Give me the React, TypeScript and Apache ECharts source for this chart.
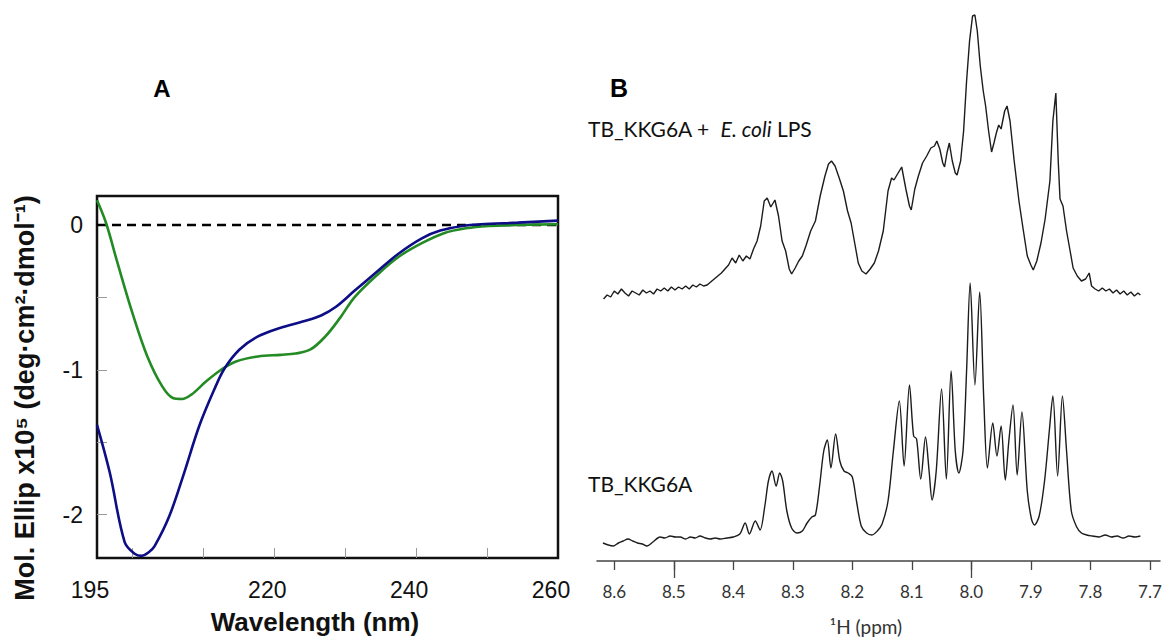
import React, { useEffect, useRef } from "react";
import * as echarts from "echarts";

// Panel A: CD spectra (wavelength nm, Mol. Ellip x10^5)
const blueNm = [195, 196.8, 198.9, 200.3, 201.3, 202.3, 203.1, 205.2, 207.3, 209.4, 211.5, 213.0, 215.1, 217.7, 220.9, 224.0, 226.6, 228.7, 231.3, 234.5, 237.6, 240.8, 243.4, 246.5, 249.1, 254.3, 260];
const blueVal = [-1.38, -1.71, -2.19, -2.27, -2.285, -2.26, -2.22, -2.01, -1.71, -1.39, -1.14, -0.99, -0.86, -0.77, -0.71, -0.667, -0.625, -0.565, -0.455, -0.322, -0.195, -0.092, -0.039, -0.007, 0.005, 0.016, 0.03];
const greenNm = [195, 196.3, 197.9, 200.0, 202.1, 204.2, 205.7, 207.0, 208.3, 210.4, 212.5, 214.6, 217.7, 220.9, 223.0, 225.1, 227.2, 229.3, 231.3, 234.5, 237.6, 240.8, 243.9, 247.0, 250.2, 254.3, 260];
const greenVal = [0.17, 0.01, -0.264, -0.609, -0.908, -1.115, -1.195, -1.202, -1.172, -1.08, -1.0, -0.943, -0.908, -0.897, -0.888, -0.86, -0.77, -0.64, -0.5, -0.345, -0.218, -0.126, -0.057, -0.023, -0.007, 0.0, 0.005];
const zeroNm = [195, 260];
const zeroVal = [0, 0];
const cdTickValues = [200, 210, 220, 230, 240, 250];
const cdLabelValues = [195, 220, 240, 260];
const ellipTickValues = [-2, -1.5, -1, -0.5, 0];
const ellipLabelValues = [-2, -1, 0];

// Panel B: 1H NMR spectra (ppm, intensity a.u.)
const bottomPpm = [8.619, 8.61, 8.602, 8.593, 8.585, 8.577, 8.569, 8.561, 8.553, 8.545, 8.535, 8.523, 8.515, 8.506, 8.497, 8.489, 8.48, 8.472, 8.464, 8.456, 8.447, 8.439, 8.43, 8.422, 8.411, 8.4, 8.389, 8.38, 8.373, 8.363, 8.355, 8.347, 8.341, 8.335, 8.328, 8.322, 8.317, 8.31, 8.302, 8.293, 8.284, 8.276, 8.268, 8.262, 8.255, 8.248, 8.242, 8.236, 8.228, 8.221, 8.214, 8.207, 8.2, 8.193, 8.185, 8.176, 8.167, 8.158, 8.15, 8.14, 8.131, 8.121, 8.113, 8.104, 8.097, 8.092, 8.085, 8.077, 8.071, 8.066, 8.059, 8.05, 8.042, 8.034, 8.027, 8.021, 8.014, 8.008, 8.002, 7.994, 7.986, 7.979, 7.973, 7.964, 7.957, 7.95, 7.943, 7.937, 7.93, 7.923, 7.915, 7.906, 7.899, 7.894, 7.886, 7.877, 7.869, 7.863, 7.855, 7.847, 7.84, 7.832, 7.823, 7.815, 7.806, 7.797, 7.785, 7.775, 7.765, 7.755, 7.745, 7.735, 7.725, 7.716];
const bottomInt = [18, 16, 15, 18, 20, 22, 20, 18, 17, 15, 19, 24, 23, 25, 24, 24, 22, 24, 23, 25, 23, 22, 23, 22, 23, 24, 27, 38, 27, 40, 31, 55, 80, 90, 75, 88, 80, 50, 33, 28, 30, 38, 44, 46, 75, 110, 121, 93, 127, 100, 90, 88, 84, 60, 35, 28, 26, 30, 37, 60, 110, 160, 95, 176, 125, 122, 82, 124, 90, 61, 90, 172, 82, 190, 110, 88, 110, 190, 278, 176, 269, 160, 93, 138, 105, 135, 81, 120, 156, 86, 149, 70, 42, 36, 45, 80, 130, 165, 85, 165, 110, 50, 34, 28, 26, 25, 24, 26, 24, 25, 23, 25, 24, 25];
const topPpm = [8.618, 8.612, 8.606, 8.6, 8.594, 8.588, 8.582, 8.576, 8.57, 8.564, 8.558, 8.552, 8.546, 8.54, 8.534, 8.528, 8.522, 8.516, 8.51, 8.504, 8.498, 8.492, 8.486, 8.48, 8.474, 8.468, 8.462, 8.456, 8.45, 8.444, 8.438, 8.432, 8.426, 8.42, 8.414, 8.408, 8.402, 8.396, 8.39, 8.384, 8.378, 8.372, 8.366, 8.36, 8.354, 8.348, 8.343, 8.337, 8.33, 8.324, 8.318, 8.312, 8.306, 8.302, 8.296, 8.29, 8.284, 8.278, 8.27, 8.262, 8.254, 8.246, 8.24, 8.235, 8.229, 8.222, 8.215, 8.208, 8.202, 8.196, 8.19, 8.184, 8.177, 8.17, 8.163, 8.156, 8.148, 8.14, 8.134, 8.13, 8.124, 8.117, 8.11, 8.104, 8.101, 8.095, 8.089, 8.082, 8.075, 8.068, 8.062, 8.058, 8.053, 8.048, 8.045, 8.041, 8.037, 8.032, 8.027, 8.024, 8.018, 8.013, 8.008, 8.003, 7.998, 7.994, 7.99, 7.985, 7.98, 7.976, 7.971, 7.966, 7.962, 7.958, 7.954, 7.95, 7.944, 7.94, 7.935, 7.928, 7.92, 7.913, 7.906, 7.9, 7.896, 7.89, 7.883, 7.876, 7.868, 7.863, 7.858, 7.854, 7.851, 7.846, 7.84, 7.834, 7.829, 7.822, 7.815, 7.808, 7.802, 7.798, 7.792, 7.786, 7.78, 7.774, 7.768, 7.762, 7.756, 7.75, 7.744, 7.738, 7.732, 7.726, 7.72, 7.716];
const topInt = [262, 266, 264, 270, 267, 272, 268, 265, 270, 268, 266, 271, 268, 270, 267, 272, 270, 273, 270, 274, 271, 274, 272, 275, 272, 276, 274, 277, 275, 276, 279, 282, 285, 288, 292, 296, 303, 298, 306, 300, 305, 302, 312, 320, 335, 360, 363, 354, 361, 345, 320, 310, 292, 287, 293, 300, 305, 315, 330, 340, 365, 385, 397, 400, 395, 383, 370, 350, 338, 318, 298, 290, 287, 292, 298, 310, 330, 370, 383, 381, 387, 394, 372, 355, 351, 372, 385, 398, 405, 413, 415, 420, 412, 398, 394, 408, 418, 400, 388, 386, 400, 430, 480, 520, 545, 546, 530, 495, 470, 455, 430, 409, 418, 428, 436, 432, 450, 455, 440, 400, 360, 332, 305, 296, 291, 300, 318, 342, 380, 440, 468, 400, 362, 355, 330, 310, 293, 285, 280, 282, 288, 275, 272, 270, 273, 270, 272, 268, 271, 267, 270, 266, 269, 265, 268, 266];
const ppmTickValues = [8.6, 8.5, 8.4, 8.3, 8.2, 8.1, 8.0, 7.9, 7.8, 7.7];
const ppmMajorTicks = [8.5, 8.0];

const zip = (xs: number[], ys: number[]) => xs.map((x, i) => [x, ys[i]]);

export default function App() {
  const ref = useRef<HTMLDivElement>(null);
  useEffect(() => {
    document.body.style.margin = "0";
    if (!ref.current) return;
    const chart = echarts.init(ref.current, undefined, { renderer: "svg" });
    const arial = "'Liberation Sans', Arial, Helvetica, sans-serif";
    const lato = "Lato, 'Open Sans', sans-serif";
    chart.setOption({
      animation: false,
      backgroundColor: "#ffffff",
      grid: [
        { left: 97, top: 196, width: 461, height: 362, show: true, borderColor: "#111", borderWidth: 2.5, backgroundColor: "transparent", containLabel: false, outerBoundsMode: "none" },
        { left: 597, top: 0, width: 563, height: 561, show: false, containLabel: false, outerBoundsMode: "none" },
      ],
      xAxis: [
        {
          gridIndex: 0, type: "value", min: 195, max: 260, position: "bottom",
          axisLine: { show: false, onZero: false },
          splitLine: { show: false },
          axisTick: { show: true, inside: true, length: 10, customValues: cdTickValues, lineStyle: { color: "#999", width: 1 } },
          axisLabel: { show: true, customValues: cdLabelValues, margin: 20, padding: [0, 14, 0, 0], fontFamily: arial, fontSize: 23, color: "#111", showMinLabel: true, showMaxLabel: true },
        },
        {
          gridIndex: 1, type: "value", min: 7.683, max: 8.629, inverse: true, position: "bottom",
          axisLine: { show: true, onZero: false, lineStyle: { color: "#444", width: 1.5 } },
          splitLine: { show: false },
          axisTick: { show: true, inside: false, length: 9, customValues: ppmTickValues, lineStyle: { color: "#444", width: 1.3 } },
          axisLabel: { show: true, customValues: ppmTickValues, margin: 22, fontFamily: lato, fontSize: 17, color: "#333", formatter: (v: number) => v.toFixed(1) },
        },
        {
          gridIndex: 1, type: "value", min: 7.683, max: 8.629, inverse: true, position: "bottom", offset: 0,
          axisLine: { show: false, onZero: false },
          splitLine: { show: false },
          axisTick: { show: true, inside: false, length: 17, customValues: ppmMajorTicks, lineStyle: { color: "#444", width: 1.3 } },
          axisLabel: { show: false },
        },
      ],
      yAxis: [
        {
          gridIndex: 0, type: "value", min: -2.3, max: 0.2, position: "left",
          axisLine: { show: false, onZero: false },
          splitLine: { show: false },
          axisTick: { show: true, inside: true, length: 10, customValues: ellipTickValues, lineStyle: { color: "#999", width: 1 } },
          axisLabel: { show: true, customValues: ellipLabelValues, margin: 14, fontFamily: arial, fontSize: 23, color: "#111" },
        },
        {
          gridIndex: 1, type: "value", min: 0, max: 561, show: false,
        },
      ],
      series: [
        { type: "line", xAxisIndex: 0, yAxisIndex: 0, data: zip(zeroNm, zeroVal), showSymbol: false, lineStyle: { color: "#000", width: 2.5, type: [9, 6] }, z: 1 },
        { type: "line", xAxisIndex: 0, yAxisIndex: 0, data: zip(greenNm, greenVal), showSymbol: false, smooth: 0.35, lineStyle: { color: "#238b23", width: 2.6 }, z: 2 },
        { type: "line", xAxisIndex: 0, yAxisIndex: 0, data: zip(blueNm, blueVal), showSymbol: false, smooth: 0.35, lineStyle: { color: "#0d0d85", width: 2.6 }, z: 3 },
        { type: "line", xAxisIndex: 1, yAxisIndex: 1, data: zip(topPpm, topInt), showSymbol: false, lineStyle: { color: "#1c1c1c", width: 1.4 } },
        { type: "line", xAxisIndex: 1, yAxisIndex: 1, data: zip(bottomPpm, bottomInt), showSymbol: false, smooth: 0.3, lineStyle: { color: "#1c1c1c", width: 1.4 } },
      ],
      graphic: [
        { type: "text", x: 162, y: 88, style: { text: "A", font: `bold 24px ${arial}`, fill: "#000", textAlign: "center", textVerticalAlign: "middle" } },
        { type: "text", x: 619, y: 88, style: { text: "B", font: `bold 25px ${arial}`, fill: "#000", textAlign: "center", textVerticalAlign: "middle" } },
        { type: "text", x: 315, y: 622, style: { text: "Wavelength (nm)", font: `bold 26px ${arial}`, fill: "#111", textAlign: "center", textVerticalAlign: "middle" } },
        { type: "text", x: 25, y: 398, rotation: Math.PI / 2, style: { text: "Mol. Ellip x10⁵ (deg·cm²·dmol⁻¹)", font: `bold 27px ${arial}`, fill: "#111", textAlign: "center", textVerticalAlign: "middle" } },
        {
          type: "text", x: 588, y: 128,
          style: {
            text: "{n|TB_KKG6A +  }{i|E. coli}{n| LPS}",
            textAlign: "left", textVerticalAlign: "middle",
            rich: {
              n: { fontFamily: lato, fontSize: 21, fill: "#111", color: "#111" },
              i: { fontFamily: lato, fontSize: 21, fontStyle: "italic", fill: "#111", color: "#111" },
            },
          },
        },
        { type: "text", x: 588, y: 483, style: { text: "TB_KKG6A", font: `21px ${lato}`, fill: "#111", textAlign: "left", textVerticalAlign: "middle" } },
        { type: "text", x: 866, y: 626, style: { text: "¹H (ppm)", font: `19px ${lato}`, fill: "#333", textAlign: "center", textVerticalAlign: "middle" } },
      ],
    });
    return () => chart.dispose();
  }, []);
  return <div ref={ref} style={{ width: 1167, height: 639 }} />;
}
